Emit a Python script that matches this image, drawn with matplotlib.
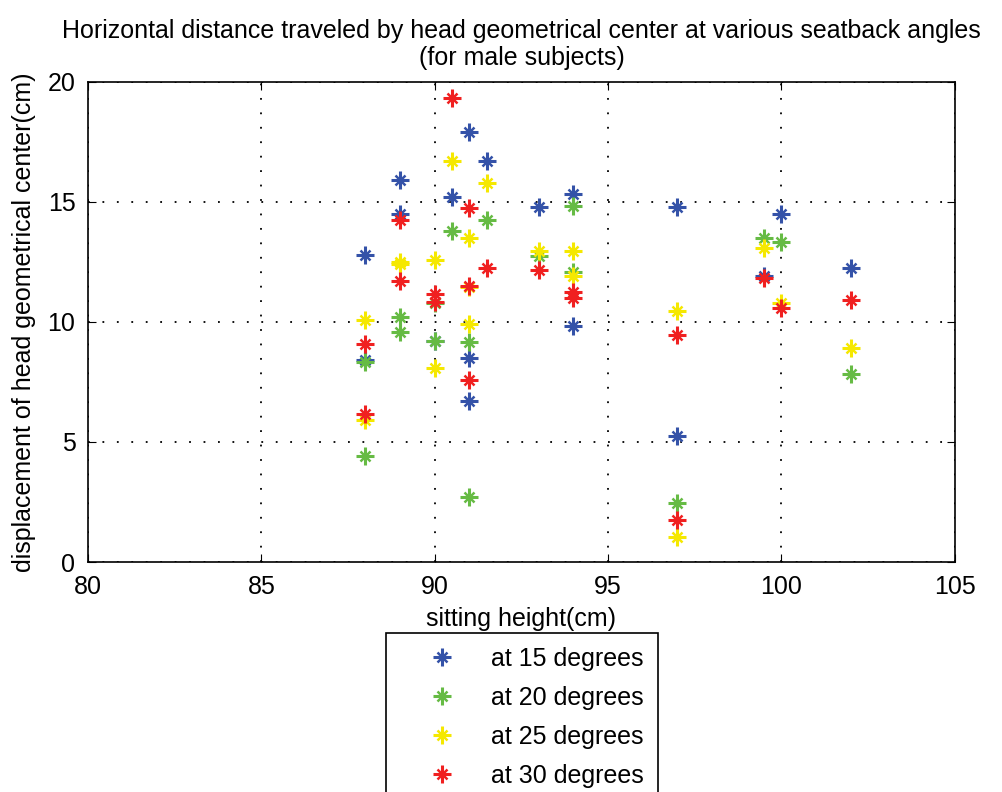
import matplotlib.pyplot as plt
from matplotlib.legend_handler import HandlerTuple

plt.rcParams['font.family'] = ['Liberation Sans', 'DejaVu Sans']

# sitting height (cm) and head displacement (cm) for each seatback angle
x15 = [88, 88, 89, 89, 90, 90.5, 91, 91, 91, 91.5, 93, 94, 94, 97, 97, 99.5, 100, 102]
y15 = [12.8, 8.4, 15.9, 14.5, 9.2, 15.2, 17.9, 8.5, 6.7, 16.7, 14.8, 15.35, 9.85, 14.8, 5.25, 11.9, 14.5, 12.25]

x20 = [88, 88, 89, 89, 90, 90, 90.5, 91, 91, 91.5, 93, 94, 94, 97, 99.5, 100, 102]
y20 = [8.35, 4.4, 10.2, 9.6, 9.2, 10.8, 13.8, 9.15, 2.7, 14.25, 12.75, 14.85, 12.1, 2.45, 13.5, 13.35, 7.85]

x25 = [88, 88, 89, 89, 90, 90, 90.5, 91, 91, 91, 91.5, 93, 94, 94, 97, 97, 99.5, 100, 102]
y25 = [10.1, 5.9, 12.5, 12.4, 12.6, 8.1, 16.7, 13.5, 11.45, 9.9, 15.8, 12.95, 12.95, 11.9, 10.45, 1.05, 13.1, 10.8, 8.9]

x30 = [88, 88, 89, 89, 90, 90, 90.5, 91, 91, 91, 91.5, 93, 94, 94, 97, 97, 99.5, 100, 102]
y30 = [9.1, 6.15, 14.25, 11.7, 11.15, 10.85, 19.35, 14.75, 11.5, 7.6, 12.25, 12.15, 11.0, 11.25, 9.45, 1.75, 11.85, 10.6, 10.9]

labels = ['at 15 degrees', 'at 20 degrees', 'at 25 degrees', 'at 30 degrees']
colors = ['#3452a8', '#66bb44', '#f5e800', '#f02020']

fs = 18

fig = plt.figure(figsize=(10.03, 7.92), dpi=100)
ax = fig.add_axes([0.0877, 0.2904, 0.8643, 0.6061])

handles = []
for xs, ys, c in zip([x15, x20, x25, x30], [y15, y20, y25, y30], colors):
    # matlab-like asterisk: long plus with short diagonals
    h1, = ax.plot(xs, ys, linestyle='none', marker='+', markersize=13, markeredgewidth=2.2, color=c)
    h2, = ax.plot(xs, ys, linestyle='none', marker='x', markersize=6.5, markeredgewidth=1.8, color=c)
    handles.append((h1, h2))

ax.set_xlim(80, 105)
ax.set_ylim(0, 20)
ax.set_xticks([80, 85, 90, 95, 100, 105])
ax.set_yticks([0, 5, 10, 15, 20])
ax.grid(True, color='black', linestyle=(0, (1, 7)), linewidth=1.3)
ax.tick_params(direction='in', top=True, right=True, labelsize=fs, length=6, pad=9)
for s in ax.spines.values():
    s.set_linewidth(1.2)

ax.set_xlabel('sitting height(cm)', fontsize=fs, labelpad=6)
ax.set_ylabel('displacement of head geometrical center(cm)', fontsize=fs, labelpad=8)
ax.set_title('Horizontal distance traveled by head geometrical center at various seatback angles\n(for male subjects)',
             fontsize=fs, pad=12, x=0.5)

leg = fig.legend(handles, labels, loc='upper left', bbox_to_anchor=(386 / 1003, 1 - 633 / 792),
                 fontsize=fs, fancybox=False, edgecolor='black', framealpha=1,
                 handler_map={tuple: HandlerTuple(ndivide=1)},
                 handlelength=3.4, borderpad=0.55, labelspacing=0.6, handletextpad=0.25, borderaxespad=0)
leg.get_frame().set_linewidth(1.2)

fig.savefig('out.png', dpi=100)
